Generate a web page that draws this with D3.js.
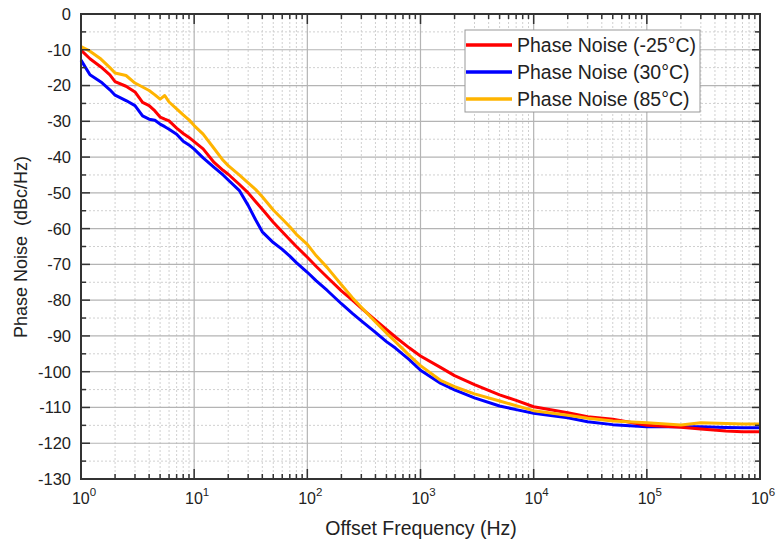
<!DOCTYPE html>
<html>
<head>
<meta charset="utf-8">
<script src="https://cdn.jsdelivr.net/npm/d3@7"></script>
<style>
  html, body { margin: 0; padding: 0; background: #fff; }
  svg { display: block; font-family: "Liberation Sans", Arial, sans-serif; }
</style>
</head>
<body>
<svg id="chart" width="776" height="543"></svg>
<script>
// Offset frequencies (Hz) shared by all three traces
const freqHz = [1, 1.2, 1.5, 1.8, 2, 2.5, 3, 3.5, 4, 4.5, 5, 5.5, 6, 7, 8, 9,
  10, 12, 15, 18, 20, 25, 30, 35, 40, 50, 60, 70, 80,
  100, 120, 150, 200, 250, 300, 400, 500, 600, 800,
  1000, 1500, 2000, 3000, 5000, 7000,
  1e4, 2e4, 3e4, 5e4, 1e5, 2e5, 3e5, 5e5, 7e5, 1e6];

// Phase noise in dBc/Hz at each offset
const noiseMinus25C = [-10.1, -12.5, -14.8, -17.0, -18.9, -20.2, -21.8, -24.7, -25.6, -27.1, -28.8, -29.4, -29.9, -31.9, -33.4, -34.5,
  -35.7, -37.7, -41.5, -43.7, -44.8, -47.6, -50.0, -52.5, -54.6, -58.2, -60.9, -63.1, -65.0,
  -68.0, -70.6, -73.6, -77.4, -80.0, -82.2, -85.6, -88.2, -90.3, -93.4,
  -95.6, -98.8, -101.1, -103.6, -106.5, -108.0,
  -109.8, -111.5, -112.6, -113.3, -115.0, -115.5, -116.0, -116.6, -116.8, -116.8];

const noise30C = [-12.9, -17.0, -19.0, -21.2, -22.7, -24.2, -25.6, -28.5, -29.4, -29.7, -30.8, -31.5, -32.2, -33.6, -35.6, -36.6,
  -37.8, -40.2, -42.9, -45.0, -46.4, -49.3, -53.5, -57.6, -60.9, -63.9, -65.8, -67.7, -69.5,
  -72.2, -74.6, -77.3, -81.0, -83.7, -85.8, -89.0, -91.6, -93.4, -96.7,
  -99.6, -103.2, -105.1, -107.3, -109.6, -110.6,
  -111.6, -112.9, -114.0, -114.8, -115.4, -115.4, -115.4, -115.6, -115.7, -115.7];

const noise85C = [-9.1, -10.4, -12.6, -15.0, -16.5, -17.2, -19.3, -20.4, -21.4, -22.6, -23.8, -22.8, -24.6, -26.5, -28.2, -29.6,
  -31.2, -33.6, -37.6, -40.9, -42.4, -45.0, -47.2, -49.1, -51.1, -54.8, -57.3, -59.5, -61.6,
  -64.4, -67.6, -70.9, -75.7, -79.3, -82.0, -86.1, -89.2, -91.6, -95.5,
  -98.3, -102.4, -104.2, -106.2, -108.2, -109.5,
  -110.9, -112.2, -113.0, -113.8, -114.3, -114.9, -114.3, -114.5, -114.6, -114.6];

const seriesNames = ["Phase Noise (-25\u00B0C)", "Phase Noise (30\u00B0C)", "Phase Noise (85\u00B0C)"];
const seriesColors = ["#ff0000", "#0000ff", "#ffb400"];

const yTicks = d3.range(0, -131, -10);
const xDecades = [0, 1, 2, 3, 4, 5, 6];

const svg = d3.select("#chart");
const margin = { left: 81, right: 16, top: 14, bottom: 64 };
const W = 776, H = 543;
const x0 = margin.left, x1 = W - margin.right, y0 = margin.top, y1 = H - margin.bottom;

const x = d3.scaleLog().domain([1, 1e6]).range([x0, x1]);
const y = d3.scaleLinear().domain([-130, 0]).range([y1, y0]);

// minor positions: 2..9 within each decade, and 5 dB steps
const minorX = [];
for (let d = 0; d < 6; d++) for (let k = 2; k <= 9; k++) minorX.push(k * Math.pow(10, d));
const minorY = d3.range(-5, -130, -10);

const grid = svg.append("g");
grid.selectAll(".gmx").data(minorX).join("line")
  .attr("x1", d => x(d)).attr("x2", d => x(d)).attr("y1", y0).attr("y2", y1)
  .attr("stroke", "#d0d0d0").attr("stroke-width", 1).attr("stroke-dasharray", "2,2");
grid.selectAll(".gmy").data(minorY).join("line")
  .attr("y1", d => y(d)).attr("y2", d => y(d)).attr("x1", x0).attr("x2", x1)
  .attr("stroke", "#d0d0d0").attr("stroke-width", 1).attr("stroke-dasharray", "2,2");
grid.selectAll(".gMx").data(xDecades.slice(1, -1)).join("line")
  .attr("x1", d => x(Math.pow(10, d))).attr("x2", d => x(Math.pow(10, d))).attr("y1", y0).attr("y2", y1)
  .attr("stroke", "#b4b4b4").attr("stroke-width", 1.2);
grid.selectAll(".gMy").data(yTicks.slice(1, -1)).join("line")
  .attr("y1", d => y(d)).attr("y2", d => y(d)).attr("x1", x0).attr("x2", x1)
  .attr("stroke", "#b4b4b4").attr("stroke-width", 1.2);

// traces
const seriesVals = [noiseMinus25C, noise30C, noise85C];
const line = d3.line().x(d => x(d[0])).y(d => y(d[1]));
const drawOrder = [1, 0, 2];
svg.append("g").selectAll("path").data(drawOrder).join("path")
  .attr("d", i => line(freqHz.map((f, j) => [f, seriesVals[i][j]])))
  .attr("fill", "none")
  .attr("stroke", i => seriesColors[i])
  .attr("stroke-width", 3)
  .attr("stroke-linejoin", "round");

// frame with inward ticks
const axisColor = "#333";
const ticks = svg.append("g").attr("stroke", axisColor).attr("stroke-width", 1.5);
// left & right
yTicks.forEach(v => {
  ticks.append("line").attr("x1", x0).attr("x2", x0 + 9).attr("y1", y(v)).attr("y2", y(v));
  ticks.append("line").attr("x1", x1).attr("x2", x1 - 8).attr("y1", y(v)).attr("y2", y(v));
});
minorY.forEach(v => {
  ticks.append("line").attr("x1", x0).attr("x2", x0 + 5).attr("y1", y(v)).attr("y2", y(v));
  ticks.append("line").attr("x1", x1).attr("x2", x1 - 5).attr("y1", y(v)).attr("y2", y(v));
});
// bottom & top
xDecades.forEach(d => {
  const px = x(Math.pow(10, d));
  ticks.append("line").attr("x1", px).attr("x2", px).attr("y1", y1).attr("y2", y1 - 10);
  ticks.append("line").attr("x1", px).attr("x2", px).attr("y1", y0).attr("y2", y0 + 10);
});
minorX.forEach(f => {
  ticks.append("line").attr("x1", x(f)).attr("x2", x(f)).attr("y1", y1).attr("y2", y1 - 5);
  ticks.append("line").attr("x1", x(f)).attr("x2", x(f)).attr("y1", y0).attr("y2", y0 + 5);
});
svg.append("rect").attr("x", x0).attr("y", y0).attr("width", x1 - x0).attr("height", y1 - y0)
  .attr("fill", "none").attr("stroke", axisColor).attr("stroke-width", 2);

// tick labels
svg.append("g").selectAll("text").data(yTicks).join("text")
  .attr("x", x0 - 10).attr("y", d => y(d)).attr("dy", "0.36em")
  .attr("text-anchor", "end").attr("font-size", 16.5).attr("fill", "#222")
  .text(d => d);

const xl = svg.append("g").selectAll("text").data(xDecades).join("text")
  .attr("x", d => x(Math.pow(10, d)) + 3).attr("y", y1 + 25)
  .attr("text-anchor", "middle").attr("font-size", 16).attr("fill", "#222");
xl.append("tspan").text("10");
xl.append("tspan").attr("dy", -8).attr("font-size", 11.5).text(d => d);

// axis titles
svg.append("text").attr("x", 421).attr("y", 535)
  .attr("text-anchor", "middle").attr("font-size", 19.5).attr("fill", "#222")
  .text("Offset Frequency (Hz)");
svg.append("text")
  .attr("transform", "translate(27, 247) rotate(-90)")
  .attr("text-anchor", "middle").attr("font-size", 18).attr("fill", "#222")
  .attr("xml:space", "preserve")
  .text("Phase Noise  (dBc/Hz)");

// legend
const lg = svg.append("g").attr("transform", "translate(465,30)");
lg.append("rect").attr("width", 235).attr("height", 82)
  .attr("fill", "#fff").attr("stroke", "#999").attr("stroke-width", 1);
seriesNames.forEach((name, i) => {
  const ly = 15 + i * 27;
  lg.append("line").attr("x1", 1).attr("x2", 47).attr("y1", ly).attr("y2", ly)
    .attr("stroke", seriesColors[i]).attr("stroke-width", 3.5);
  lg.append("text").attr("x", 52).attr("y", ly).attr("dy", "0.36em")
    .attr("font-size", 19.5).attr("fill", "#222").text(name);
});
</script>
</body>
</html>
